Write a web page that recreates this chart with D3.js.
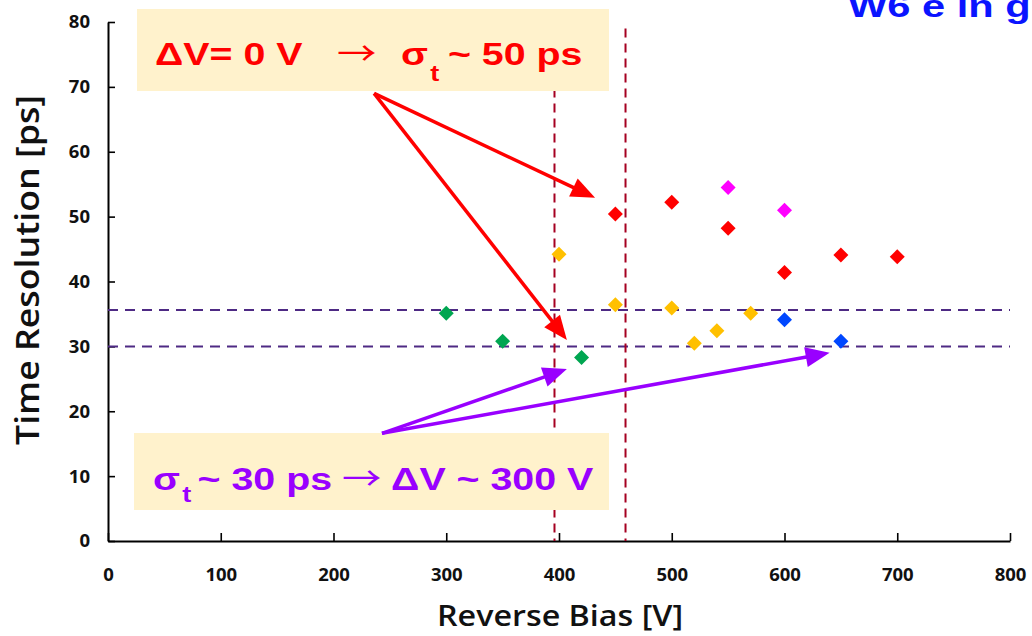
<!DOCTYPE html>
<html>
<head>
<meta charset="utf-8">
<script src="https://cdn.jsdelivr.net/npm/d3@7"></script>
<style>
  html, body { margin: 0; padding: 0; background: #fff; overflow: hidden; }
  svg { display: block; }
  text { white-space: pre; }
</style>
</head>
<body>
<div id="chart"></div>
<script>
// Measured points, one array per colour group (bias in V, resolution in ps)
const greenBias = [300, 350, 420];
const greenRes = [35.1, 30.8, 28.3];
const yellowBias = [400, 450, 500, 520, 540, 570];
const yellowRes = [44.2, 36.4, 35.9, 30.5, 32.4, 35.1];
const redBias = [450, 500, 550, 600, 650, 700];
const redRes = [50.4, 52.2, 48.2, 41.4, 44.1, 43.8];
const magentaBias = [550, 600];
const magentaRes = [54.5, 51.0];
const blueBias = [600, 650];
const blueRes = [34.1, 30.8];

// Reference lines
const hLines = [35.6, 30.0];
const vLines = [396, 459];

const xTicks = [0, 100, 200, 300, 400, 500, 600, 700, 800];
const yTicks = [0, 10, 20, 30, 40, 50, 60, 70, 80];

const width = 1032, height = 636;
// the slide is stretched sideways, texts follow it
const stretch = 1.23;

const svg = d3.select('#chart')
    .append('svg')
    .attr('width', width)
    .attr('height', height);

const x = d3.scaleLinear().domain([0, 800]).range([108, 1010]);
const y = d3.scaleLinear().domain([0, 80]).range([541, 22]);

const series = [
    {color: '#00A651', xs: greenBias, ys: greenRes},
    {color: '#FFC000', xs: yellowBias, ys: yellowRes},
    {color: '#FF0000', xs: redBias, ys: redRes},
    {color: '#FF00FF', xs: magentaBias, ys: magentaRes},
    {color: '#0047FF', xs: blueBias, ys: blueRes}
];

// cut-off title in the top right corner
svg.append('text')
    .attr('transform', `translate(848,17) scale(1.3,1)`)
    .style('font-family', '"Liberation Sans", Arial, sans-serif')
    .style('font-weight', 'bold')
    .style('font-size', '32px')
    .style('fill', '#0A14FF')
    .text('W6 e in g');

// axes
const xAxis = d3.axisBottom(x).tickValues(xTicks).tickSize(-8).tickSizeOuter(0).tickPadding(27);
const yAxis = d3.axisLeft(y).tickValues(yTicks).tickSize(-7).tickSizeOuter(0).tickPadding(18);

const gx = svg.append('g')
    .attr('transform', `translate(0,${y(0)})`)
    .call(xAxis);
const gy = svg.append('g')
    .attr('transform', `translate(${x(0)},0)`)
    .call(yAxis);

[gx, gy].forEach(g => {
    g.select('.domain').attr('stroke', '#000').attr('stroke-width', 2);
    g.selectAll('.tick line').attr('stroke', '#000').attr('stroke-width', 1.6);
    g.selectAll('.tick text')
        .style('font-family', '"Open Sans", sans-serif')
        .style('font-weight', 'bold')
        .style('font-size', '18.5px')
        .style('fill', '#111');
});

svg.append('text')
    .attr('x', 560)
    .attr('y', 626)
    .attr('text-anchor', 'middle')
    .attr('textLength', 246)
    .attr('lengthAdjust', 'spacingAndGlyphs')
    .style('font-family', '"Open Sans", sans-serif')
    .style('font-weight', '600')
    .style('font-size', '28px')
    .style('fill', '#111')
    .text('Reverse Bias [V]');

svg.append('text')
    .attr('transform', 'translate(39,270) rotate(-90)')
    .attr('text-anchor', 'middle')
    .attr('textLength', 350)
    .attr('lengthAdjust', 'spacingAndGlyphs')
    .style('font-family', '"Open Sans", sans-serif')
    .style('font-weight', '600')
    .style('font-size', '32px')
    .style('fill', '#111')
    .text('Time Resolution [ps]');

// dashed reference lines
svg.selectAll('line.hline')
    .data(hLines)
    .join('line')
    .attr('class', 'hline')
    .attr('x1', x(0)).attr('x2', x(800))
    .attr('y1', d => y(d)).attr('y2', d => y(d))
    .attr('stroke', '#4E2A84')
    .attr('stroke-width', 2)
    .attr('stroke-dasharray', '10,7');

svg.selectAll('line.vline')
    .data(vLines)
    .join('line')
    .attr('class', 'vline')
    .attr('x1', d => x(d)).attr('x2', d => x(d))
    .attr('y1', y(79)).attr('y2', y(0))
    .attr('stroke', '#A50021')
    .attr('stroke-width', 2)
    .attr('stroke-dasharray', '9,6');

// diamonds
const diamond = (cx, cy, r) => `M${cx},${cy - r}L${cx + r},${cy}L${cx},${cy + r}L${cx - r},${cy}Z`;

series.forEach(s => {
    svg.append('g')
        .selectAll('path')
        .data(s.xs.map((v, i) => [v, s.ys[i]]))
        .join('path')
        .attr('d', d => diamond(x(d[0]), y(d[1]), 7.5))
        .attr('fill', s.color);
});

// annotation boxes
const boxes = [
    {x0: 137, y0: 9, x1: 609, y1: 91},
    {x0: 134, y0: 433, x1: 609, y1: 510}
];
svg.selectAll('rect.box')
    .data(boxes)
    .join('rect')
    .attr('class', 'box')
    .attr('x', d => d.x0).attr('y', d => d.y0)
    .attr('width', d => d.x1 - d.x0).attr('height', d => d.y1 - d.y0)
    .attr('fill', '#FFF2CC');

function richText(px, py, color, parts) {
    const t = svg.append('text')
        .attr('transform', `translate(${px},${py}) scale(${stretch},1)`)
        .style('font-family', '"Liberation Sans", Arial, sans-serif')
        .style('font-weight', 'bold')
        .style('font-size', '32px')
        .style('fill', color);
    parts.forEach(p => {
        const ts = t.append('tspan').text(p.text);
        if (p.dx) ts.attr('dx', p.dx);
        if (p.dy) ts.attr('dy', p.dy);
        if (p.size) ts.style('font-size', p.size);
        if (p.arrow) {
            // thin long arrow like the slide's symbol font
            ts.style('font-family', '"Noto Sans CJK SC", sans-serif')
                .style('font-weight', 'normal')
                .style('font-size', '32px');
        }
    });
}

richText(155, 65, '#FF0000', [
    {text: 'ΔV= 0 V'},
    {text: '→', dx: 28, arrow: true},
    {text: 'σ', dx: 20},
    {text: 't', dx: 2, dy: 16, size: '22px'},
    {text: '~ 50 ps', dx: 7, dy: -16}
]);

richText(153, 490, '#9900FF', [
    {text: 'σ'},
    {text: 't', dx: 2, dy: 12, size: '22px'},
    {text: '~ 30 ps', dx: 5, dy: -12},
    {text: '→', dx: 8, arrow: true},
    {text: 'ΔV ~ 300 V', dx: 8}
]);

// arrows, in data units
const redStart = [236, 69.0];
const redTips = [[432, 52.9], [407, 31.0]];
const purpleStart = [243, 16.6];
const purpleTips = [[407, 26.5], [640, 29.0]];

function arrow(from, to, color) {
    const x1 = x(from[0]), y1 = y(from[1]);
    const x2 = x(to[0]), y2 = y(to[1]);
    const a = Math.atan2(y2 - y1, x2 - x1);
    const len = 24, hw = 10;
    const bx = x2 - len * Math.cos(a), by = y2 - len * Math.sin(a);
    svg.append('line')
        .attr('x1', x1).attr('y1', y1)
        .attr('x2', bx + 2 * Math.cos(a)).attr('y2', by + 2 * Math.sin(a))
        .attr('stroke', color)
        .attr('stroke-width', 3.5);
    const px = -Math.sin(a), py = Math.cos(a);
    svg.append('path')
        .attr('d', `M${x2},${y2}L${bx + hw * px},${by + hw * py}L${bx - hw * px},${by - hw * py}Z`)
        .attr('fill', color);
}

redTips.forEach(t => arrow(redStart, t, '#FF0000'));
purpleTips.forEach(t => arrow(purpleStart, t, '#9900FF'));
</script>
</body>
</html>
